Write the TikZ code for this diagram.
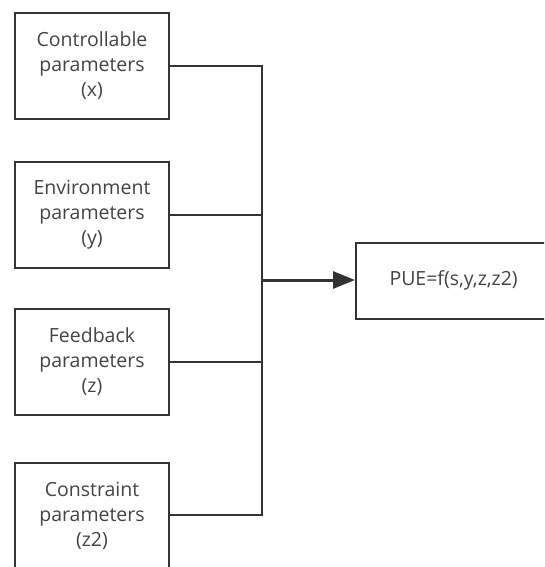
\documentclass[tikz,border=0pt]{standalone}
\usepackage{fontspec}
\setmainfont{Open Sans}
\usetikzlibrary{arrows.meta}
\definecolor{linec}{HTML}{333333}
\definecolor{textc}{HTML}{444444}
\begin{document}
\begin{tikzpicture}[x=1pt,y=-1pt,
  parbox/.style={draw=linec,line width=2pt,minimum width=154pt,minimum height=106pt,inner sep=0pt,
    text=textc,font=\fontsize{19.5}{25}\selectfont,align=center,anchor=north west},
  conn/.style={draw=linec,line width=2pt},
  mainarrow/.style={draw=linec,line width=3pt,-{Triangle[length=22pt,width=17pt]}}]
\useasboundingbox (0,0) rectangle (544,567);
\clip (0,0) rectangle (544,567);
\node[parbox] (a) at (14,12) {Controllable\\parameters\\(x)};
\node[parbox] (b) at (14,161) {Environment\\parameters\\(y)};
\node[parbox] (c) at (14,308) {Feedback\\parameters\\(z)};
\node[parbox] (d) at (14,462) {Constraint\\parameters\\(z2)};
\node[draw=linec,line width=2pt,minimum width=196pt,minimum height=76pt,inner sep=0pt,anchor=north west] (p) at (355,242) {};
\node[text=textc,font=\fontsize{19.5}{25}\selectfont,anchor=west] (pt) at (386,280) {PUE=f(s,y,z,z2)};
\coordinate (j) at (262,280);
\coordinate (ja) at (262,66);
\coordinate (jd) at (262,515);
\draw[conn] (a.east |- ja) -- (ja) -- (jd) -- (d.east |- jd);
\draw[conn] (b.east) -- (b.east -| j);
\draw[conn] (c.east) -- (c.east -| j);
\draw[mainarrow] (j) -- (j -| p.west);
\end{tikzpicture}
\end{document}
